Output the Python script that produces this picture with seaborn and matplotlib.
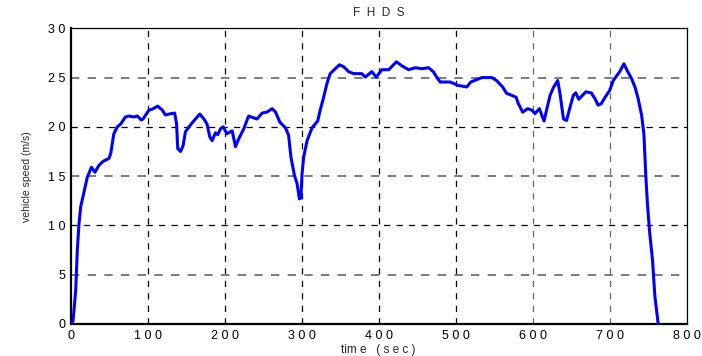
import matplotlib
matplotlib.use("Agg")
import pandas as pd
import seaborn as sns
import matplotlib.pyplot as plt

# FHDS drive cycle
time_s = [0, 3, 6.5, 8.6, 10.8, 13, 17, 21.6, 27, 31.5,
          36.7, 42, 49.7, 52, 56, 60.5, 65, 71, 75.6, 82,
          86.5, 91.6, 94, 101.6, 106, 113, 119, 123, 127.5, 135,
          137.5, 139, 142.7, 146, 149, 155.6, 162, 167.7, 173, 177,
          180.6, 183.7, 188, 191, 194.5, 198, 203, 209.7, 214, 218.3,
          224.8, 231, 242, 248.6, 255, 261.6, 266, 271.5, 278.9, 283,
          286, 290.5, 294, 297, 299, 300.5, 302.6, 307, 313.4, 320.8,
          324, 328.5, 332.8, 337, 343.7, 349, 354.5, 361, 367.5, 378,
          382.6, 391, 397, 404, 413, 423, 430, 438.8, 447.5, 456,
          464.7, 471, 476.4, 480, 493, 503.6, 514.4, 519.6, 527.4, 534,
          547, 553, 561, 566, 572.8, 578.5, 581.4, 587, 593.6, 598.8,
          603, 608.7, 611.7, 614.8, 618, 622.6, 627, 632.5, 635.5, 640,
          644, 648.5, 652.8, 656, 659.8, 664.7, 669, 676, 681, 685,
          689, 694, 700, 704.6, 713, 718.5, 722.8, 728.4, 733, 737,
          741.4, 744.4, 747, 749, 752, 755.6, 758.7, 763]

speed_ms = [0, 0.3, 3.4, 7.5, 10.2, 11.9, 13.3, 14.9, 15.9, 15.4,
            16.1, 16.5, 16.8, 17.3, 19.3, 20.0, 20.3, 21.0, 21.1, 21.0,
            21.1, 20.7, 20.8, 21.7, 21.8, 22.1, 21.7, 21.2, 21.3, 21.4,
            20.3, 17.8, 17.5, 18.1, 19.5, 20.2, 20.8, 21.3, 20.8, 20.3,
            19.0, 18.6, 19.4, 19.2, 19.8, 20.0, 19.3, 19.6, 18.0, 18.8,
            19.8, 21.1, 20.8, 21.4, 21.5, 21.85, 21.5, 20.5, 19.9, 19.15,
            16.95, 15.1, 14.25, 12.7, 12.8, 15.3, 16.95, 18.6, 19.9, 20.6,
            21.7, 23.0, 24.4, 25.4, 25.9, 26.3, 26.1, 25.6, 25.4, 25.4,
            25.05, 25.6, 25.05, 25.8, 25.8, 26.6, 26.2, 25.8, 26.0, 25.9,
            26.0, 25.6, 24.9, 24.55, 24.55, 24.2, 24.05, 24.55, 24.8, 25.0,
            25.0, 24.7, 24.05, 23.4, 23.2, 23.0, 22.35, 21.5, 21.85, 21.7,
            21.35, 21.85, 21.2, 20.6, 21.7, 23.2, 24.0, 24.7, 23.35, 20.8,
            20.65, 22.0, 23.2, 23.45, 22.8, 23.2, 23.55, 23.45, 22.85, 22.2,
            22.35, 23.0, 23.7, 24.7, 25.6, 26.4, 25.7, 24.9, 24.0, 22.85,
            21.2, 19.3, 14.9, 12.2, 9.2, 6.5, 2.8, 0]

x_ticks = [0, 100, 200, 300, 400, 500, 600, 700, 800]
y_ticks = [0, 5, 10, 15, 20, 25, 30]

sns.set_style("white")
plt.rcParams["font.family"] = ["Liberation Sans", "DejaVu Sans"]

df = pd.DataFrame({"time": time_s, "speed": speed_ms})

fig = plt.figure(figsize=(7.02, 3.56), dpi=100)
ax = fig.add_axes([0.1007, 0.0899, 0.8775, 0.8306])

# dashed grid, alternating dark / grey like the original render
for xv in x_ticks[1:-1]:
    ax.axvline(xv, color="black" if xv < 600 else "#666666",
               lw=0.9, ls=(0, (5, 5)), zorder=1)
for yv in y_ticks[1:-1]:
    ax.axhline(yv, color="black" if yv % 10 == 0 else "#666666",
               lw=0.9 if yv % 10 == 0 else 1.2, ls=(0, (5, 5)), zorder=1)

sns.lineplot(data=df, x="time", y="speed", color="#0000ff", lw=2.2,
             estimator=None, sort=False, ax=ax, zorder=3)
for ln in ax.get_lines()[-1:]:
    ln.set_solid_joinstyle("round")
    ln.set_solid_capstyle("round")

ax.set_xlim(0, 800)
ax.set_ylim(0, 30)
ax.set_xticks(x_ticks)
ax.set_yticks(y_ticks)
ax.set_xticklabels([" ".join(str(v)) for v in x_ticks], fontsize=9)
ax.set_yticklabels([" ".join(str(v)) for v in y_ticks], fontsize=9)
ax.tick_params(direction="in", length=3, width=0.8, pad=4, colors="black")

for side in ["left", "bottom"]:
    ax.spines[side].set_linewidth(1.6)
    ax.spines[side].set_color("black")
for side in ["top", "right"]:
    ax.spines[side].set_linewidth(0.9)
    ax.spines[side].set_color("black")

ax.set_title("F  H  D  S", fontsize=8.5, pad=9)
ax.set_xlabel("tim e   ( s e c )", fontsize=8.5, labelpad=2)
ax.set_ylabel("vehicle speed (m/s)", fontsize=7.5, labelpad=11)

fig.savefig("out.png", dpi=100)
